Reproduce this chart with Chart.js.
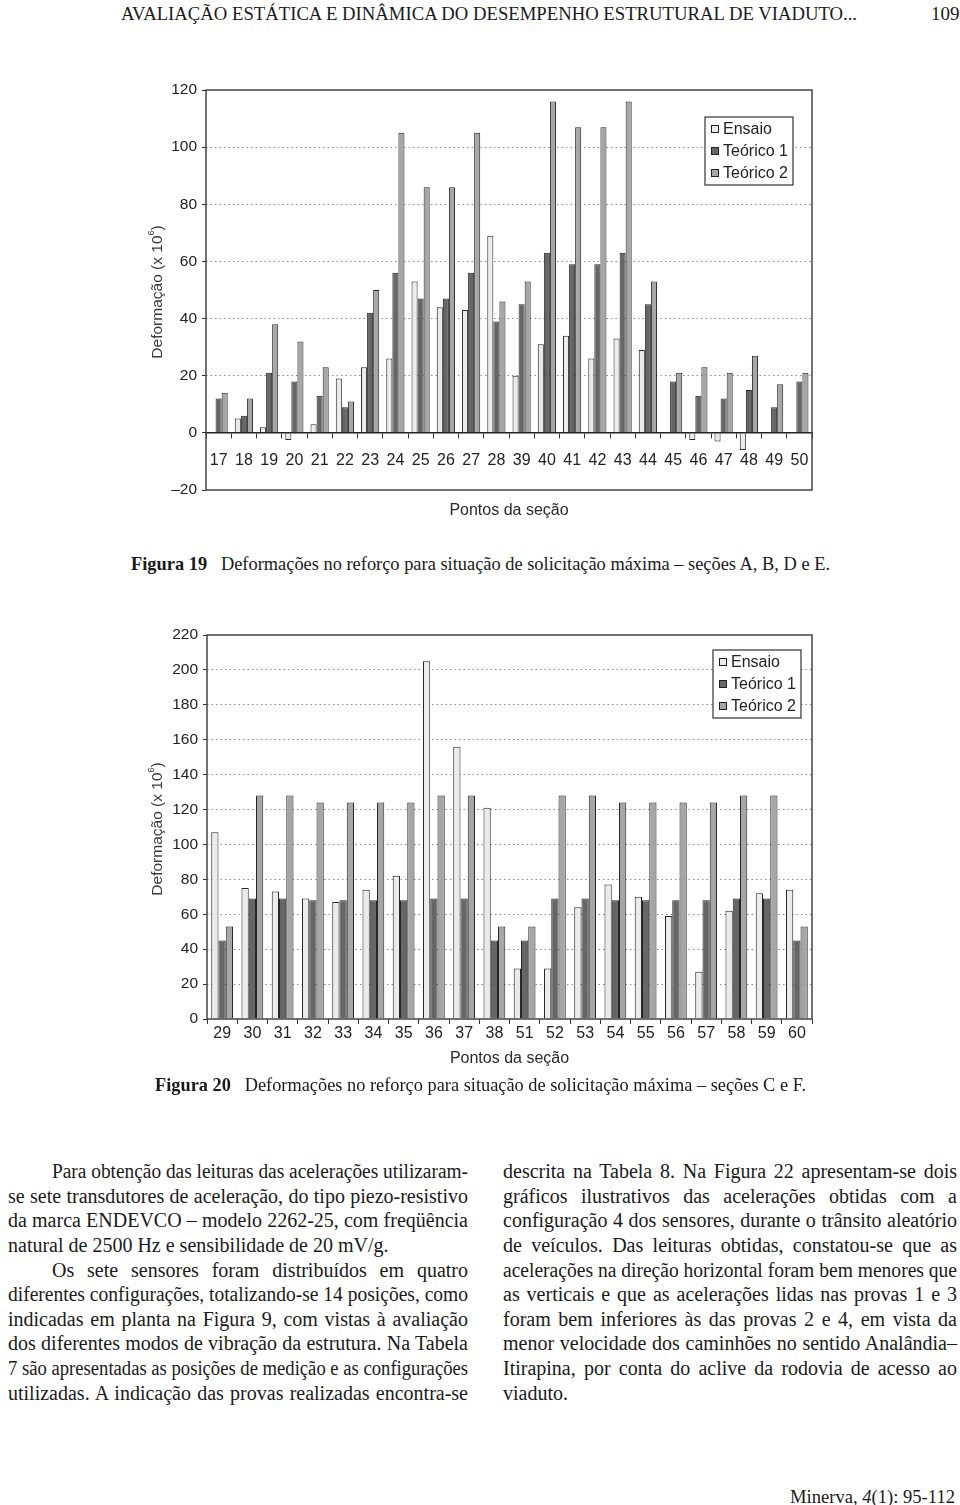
<!DOCTYPE html>
<html>
<head>
<meta charset="utf-8">
<script src="https://cdn.jsdelivr.net/npm/chart.js@4.4.0/dist/chart.umd.min.js"></script>
<style>
html, body { margin: 0; padding: 0; background: #fff; }
body { width: 960px; height: 1505px; position: relative; overflow: hidden;
       font-family: "Liberation Serif", "Times New Roman", serif; color: #1a1a1a; }
.ln { position: absolute; white-space: nowrap; transform-origin: 0 50%;
      font-size: 20px; line-height: 24px; }
.cw { position: absolute; }
</style>
</head>
<body>

<div class="ln" data-w="736" style="left:121px;top:2px;font-size:19px">AVALIAÇÃO ESTÁTICA E DINÂMICA DO DESEMPENHO ESTRUTURAL DE VIADUTO...</div>
<div class="ln" style="left:931px;top:2px;font-size:19px">109</div>

<div class="cw" style="left:100px;top:70px"><canvas id="chart1" width="740" height="460"></canvas></div>
<div class="ln" data-w="699" style="left:131px;top:552px;font-size:19px"><b>Figura 19</b>&nbsp;&nbsp; Deformações no reforço para situação de solicitação máxima – seções A, B, D e E.</div>

<div class="cw" style="left:100px;top:620px"><canvas id="chart2" width="740" height="460"></canvas></div>
<div class="ln" data-w="651" style="left:155px;top:1073px;font-size:19px"><b>Figura 20</b>&nbsp;&nbsp; Deformações no reforço para situação de solicitação máxima – seções C e F.</div>

<div class="ln" data-w="416" data-j="1" style="left:52px;top:1159px">Para obtenção das leituras das acelerações utilizaram-</div>
<div class="ln" data-w="460" data-j="1" style="left:8px;top:1184px">se sete transdutores de aceleração, do tipo piezo-resistivo</div>
<div class="ln" data-w="460" data-j="1" style="left:8px;top:1208px">da marca ENDEVCO – modelo 2262-25, com freqüência</div>
<div class="ln" data-w="460" data-j="last" style="left:8px;top:1233px">natural de 2500 Hz e sensibilidade de 20 mV/g.</div>
<div class="ln" data-w="416" data-j="1" style="left:52px;top:1258px">Os sete sensores foram distribuídos em quatro</div>
<div class="ln" data-w="460" data-j="1" style="left:8px;top:1282px">diferentes configurações, totalizando-se 14 posições, como</div>
<div class="ln" data-w="460" data-j="1" style="left:8px;top:1307px">indicadas em planta na Figura 9, com vistas à avaliação</div>
<div class="ln" data-w="460" data-j="1" style="left:8px;top:1331px">dos diferentes modos de vibração da estrutura. Na Tabela</div>
<div class="ln" data-w="460" data-j="1" style="left:8px;top:1356px">7 são apresentadas as posições de medição e as configurações</div>
<div class="ln" data-w="460" data-j="1" style="left:8px;top:1381px">utilizadas. A indicação das provas realizadas encontra-se</div>

<div class="ln" data-w="454" data-j="1" style="left:503px;top:1159px">descrita na Tabela 8. Na Figura 22 apresentam-se dois</div>
<div class="ln" data-w="454" data-j="1" style="left:503px;top:1184px">gráficos ilustrativos das acelerações obtidas com a</div>
<div class="ln" data-w="454" data-j="1" style="left:503px;top:1208px">configuração 4 dos sensores, durante o trânsito aleatório</div>
<div class="ln" data-w="454" data-j="1" style="left:503px;top:1233px">de veículos. Das leituras obtidas, constatou-se que as</div>
<div class="ln" data-w="454" data-j="1" style="left:503px;top:1258px">acelerações na direção horizontal foram bem menores que</div>
<div class="ln" data-w="454" data-j="1" style="left:503px;top:1282px">as verticais e que as acelerações lidas nas provas 1 e 3</div>
<div class="ln" data-w="454" data-j="1" style="left:503px;top:1307px">foram bem inferiores às das provas 2 e 4, em vista da</div>
<div class="ln" data-w="454" data-j="1" style="left:503px;top:1331px">menor velocidade dos caminhões no sentido Analândia–</div>
<div class="ln" data-w="454" data-j="1" style="left:503px;top:1356px">Itirapina, por conta do aclive da rodovia de acesso ao</div>
<div class="ln" data-w="454" data-j="last" style="left:503px;top:1381px">viaduto.</div>

<div class="ln" data-w="165" style="left:790px;top:1485px;font-size:19px">Minerva, <i>4</i>(1): 95-112</div>

<script>
// Figura 19 - secoes A, B, D e E
const labels1 = ['17','18','19','20','21','22','23','24','25','26','27','28','39','40','41','42','43','44','45','46','47','48','49','50'];
const ensaio1 = [null,5,2,-2.5,3,19,23,26,53,44,43,69,20,31,34,26,33,29,null,-2.5,-3,-6,null,null];
const teoricoA1 = [12,6,21,18,13,9,42,56,47,47,56,39,45,63,59,59,63,45,18,13,12,15,9,18];
const teoricoB1 = [14,12,38,32,23,11,50,105,86,86,105,46,53,116,107,107,116,53,21,23,21,27,17,21];

// Figura 20 - secoes C e F
const labels2 = ['29','30','31','32','33','34','35','36','37','38','51','52','53','54','55','56','57','58','59','60'];
const ensaio2 = [107,75,73,69,67,74,82,205,156,121,29,29,64,77,70,59,27,62,72,74];
const teoricoA2 = [45,69,69,68,68,68,68,69,69,45,45,69,69,68,68,68,68,69,69,45];
const teoricoB2 = [53,128,128,124,124,124,124,128,128,53,53,128,128,124,124,124,124,128,128,53];

const seriesNames = ['Ensaio', 'Teórico 1', 'Teórico 2'];
const FONT = '"Liberation Sans", Arial, Helvetica, sans-serif';
const fills = ['#ebebeb', '#666666', '#a6a6a6'];

// frame, axis titles and legend box drawn over the chart
const framePlugin = {
    id: 'frame',
    afterDraw(chart, args, opts) {
        const ctx = chart.ctx;
        const a = chart.chartArea;
        ctx.save();
        ctx.strokeStyle = '#444';
        ctx.lineWidth = 1.5;
        ctx.strokeRect(a.left, a.top, a.right - a.left, a.bottom - a.top);

        // y title with superscript
        ctx.fillStyle = '#3a3a3a';
        ctx.translate(58, (a.top + a.bottom) / 2 + 2);
        ctx.rotate(-Math.PI / 2);
        ctx.textBaseline = 'middle';
        ctx.textAlign = 'left';
        ctx.font = '15.5px ' + FONT;
        const t1 = 'Deformação (x 10';
        const w1 = ctx.measureText(t1).width;
        ctx.font = '9px ' + FONT;
        const w2 = ctx.measureText('6').width;
        ctx.font = '15.5px ' + FONT;
        const w3 = ctx.measureText(')').width;
        let x0 = -(w1 + w2 + w3) / 2;
        ctx.fillText(t1, x0, 0);
        ctx.font = '9px ' + FONT;
        ctx.fillText('6', x0 + w1, -6);
        ctx.font = '15.5px ' + FONT;
        ctx.fillText(')', x0 + w1 + w2, 0);
        ctx.setTransform(1, 0, 0, 1, 0, 0);

        // x title
        ctx.fillStyle = '#2a2a2a';
        ctx.textAlign = 'center';
        ctx.font = '16px ' + FONT;
        ctx.fillText('Pontos da seção', (a.left + a.right) / 2, a.bottom + opts.xTitleOffset);

        // legend
        const lx = a.right - opts.legendRight;
        const ly = a.top + opts.legendTop;
        ctx.fillStyle = '#fff';
        ctx.fillRect(lx, ly, 88, 68);
        ctx.strokeStyle = '#333';
        ctx.lineWidth = 1.2;
        ctx.strokeRect(lx, ly, 88, 68);
        ctx.font = '16px ' + FONT;
        ctx.textAlign = 'left';
        chart.data.datasets.forEach((ds, i) => {
            const cy = ly + 12 + i * 22;
            ctx.fillStyle = ds.backgroundColor;
            ctx.fillRect(lx + 6, cy - 4, 8, 8);
            ctx.strokeStyle = '#222';
            ctx.lineWidth = 1;
            ctx.strokeRect(lx + 6.5, cy - 3.5, 7, 7);
            ctx.fillStyle = '#222';
            ctx.fillText(ds.label, lx + 18, cy + 1);
        });
        ctx.restore();
    }
};

function makeDatasets(e, t1, t2) {
    return [e, t1, t2].map((d, i) => ({
        label: seriesNames[i],
        data: d,
        backgroundColor: fills[i],
        borderColor: '#262626',
        borderWidth: 1,
        categoryPercentage: 0.72,
        barPercentage: 1.0
    }));
}

function yGridColor(hide) {
    return c => (c.tick && hide.includes(c.tick.value)) ? 'rgba(0,0,0,0)' : '#8c8c8c';
}

new Chart(document.getElementById('chart1'), {
    type: 'bar',
    data: { labels: labels1, datasets: makeDatasets(ensaio1, teoricoA1, teoricoB1) },
    plugins: [framePlugin],
    options: {
        responsive: false,
        animation: false,
        layout: { padding: { left: 0, right: 28, top: 20, bottom: 40 } },
        plugins: {
            legend: { display: false },
            tooltip: { enabled: false },
            frame: { xTitleOffset: 21, legendRight: 107, legendTop: 27 }
        },
        scales: {
            x: {
                position: { y: 0 },
                grid: { drawOnChartArea: false, drawTicks: true, tickLength: 5, tickColor: '#333', offset: true },
                border: { display: true, color: '#222', width: 1.5, z: 1 },
                ticks: { font: { family: FONT, size: 16 }, color: '#222', padding: 13, maxRotation: 0, autoSkip: false }
            },
            y: {
                min: -20,
                max: 120,
                afterFit: s => { s.width = 106; },
                grid: { color: yGridColor([-20, 0, 120]), lineWidth: 1, drawTicks: true, tickLength: 4, tickColor: '#333', tickBorderDash: [] },
                border: { display: false, dash: [1.5, 3] },
                ticks: {
                    stepSize: 20,
                    padding: 5,
                    font: { family: FONT, size: 15.5 },
                    color: '#222',
                    callback: v => v < 0 ? '–' + (-v) : v
                }
            }
        }
    }
});

new Chart(document.getElementById('chart2'), {
    type: 'bar',
    data: { labels: labels2, datasets: makeDatasets(ensaio2, teoricoA2, teoricoB2) },
    plugins: [framePlugin],
    options: {
        responsive: false,
        animation: false,
        layout: { padding: { left: 0, right: 28, top: 15, bottom: 31 } },
        plugins: {
            legend: { display: false },
            tooltip: { enabled: false },
            frame: { xTitleOffset: 40, legendRight: 99, legendTop: 15 }
        },
        scales: {
            x: {
                afterFit: s => { s.height = 30; },
                grid: { drawOnChartArea: false, drawTicks: true, tickLength: 5, tickColor: '#333', offset: true },
                border: { display: false },
                ticks: { font: { family: FONT, size: 16 }, color: '#222', padding: 0, maxRotation: 0, autoSkip: false }
            },
            y: {
                min: 0,
                max: 220,
                afterFit: s => { s.width = 107; },
                grid: { color: yGridColor([0, 220]), lineWidth: 1, drawTicks: true, tickLength: 4, tickColor: '#333', tickBorderDash: [] },
                border: { display: false, dash: [1.5, 3] },
                ticks: { stepSize: 20, padding: 5, font: { family: FONT, size: 15.5 }, color: '#222' }
            }
        }
    }
});

// squeeze / justify the text lines to the widths of the page
function fitLines() {
    let prev = 1;
    document.querySelectorAll('.ln').forEach(el => {
        const w = parseFloat(el.dataset.w);
        if (!w) return;
        el.style.transform = '';
        el.style.wordSpacing = '';
        const nat = el.getBoundingClientRect().width;
        const mode = el.dataset.j;
        if (mode === '1') {
            const s = Math.min(1, w / nat);
            const spaces = (el.textContent.match(/ /g) || []).length;
            const extra = w / s - nat;
            if (spaces && extra > 0) el.style.wordSpacing = (extra / spaces) + 'px';
            el.style.transform = 'scaleX(' + s + ')';
            prev = s;
        } else if (mode === 'last') {
            el.style.transform = 'scaleX(' + prev + ')';
        } else {
            el.style.transform = 'scaleX(' + (w / nat) + ')';
        }
    });
}
fitLines();
if (document.fonts) document.fonts.ready.then(fitLines);
</script>
</body>
</html>
